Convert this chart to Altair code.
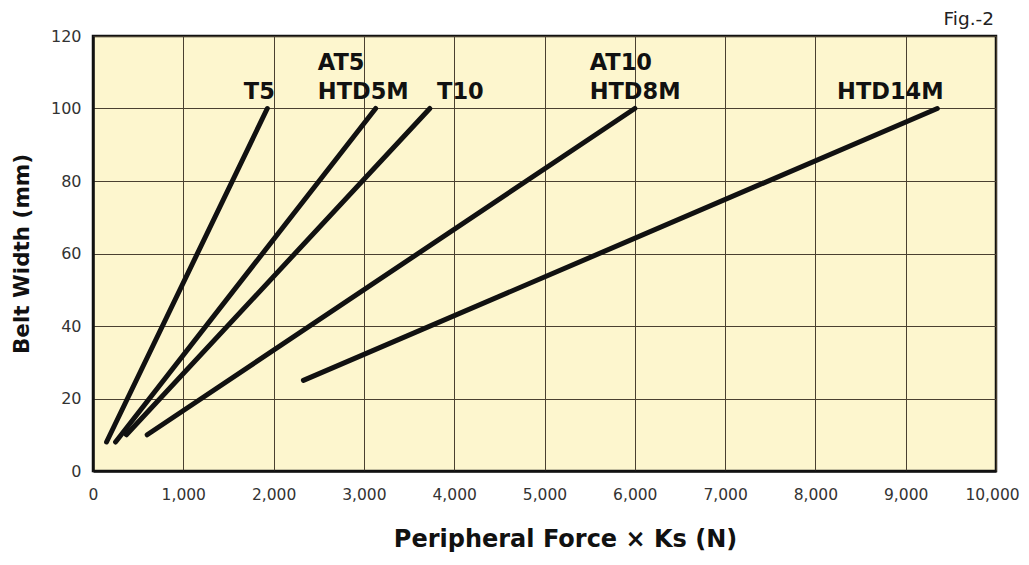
import altair as alt
import pandas as pd

# Lines: belt types, start/end (force N, width mm)
series = ["T5", "AT5/HTD5M", "T10", "AT10/HTD8M", "HTD14M"]
force_start = [150, 250, 370, 600, 2330]
force_end = [1930, 3130, 3730, 6000, 9350]
width_start = [8, 8, 10, 10, 25]
width_end = [100, 100, 100, 100, 100]

# Line labels
label_text = ["T5", "AT5", "HTD5M", "T10", "AT10", "HTD8M", "HTD14M"]
label_force = [1670, 2490, 2490, 3810, 5500, 5500, 8240]
label_width = [102.5, 110.5, 102.5, 102.5, 110.5, 102.5, 102.5]

x_ticks = [0, 1000, 2000, 3000, 4000, 5000, 6000, 7000, 8000, 9000, 10000]
y_ticks = [0, 20, 40, 60, 80, 100, 120]

rows = []
for s, f0, f1, w0, w1 in zip(series, force_start, force_end, width_start, width_end):
    rows.append({"series": s, "force": f0, "width": w0, "order": 0})
    rows.append({"series": s, "force": f1, "width": w1, "order": 1})
lines_df = pd.DataFrame(rows)
labels_df = pd.DataFrame({"label": label_text, "force": label_force, "width": label_width})

FONT = "DejaVu Sans"

x_scale = alt.Scale(domain=[0, 10000], nice=False)
y_scale = alt.Scale(domain=[0, 120], nice=False)

x_enc = alt.X("force:Q", scale=x_scale,
              axis=alt.Axis(values=x_ticks, format=",d", title="Peripheral Force × Ks (N)",
                            labelFontSize=15.5, labelColor="#333333", labelPadding=16,
                            labelOffset={"condition": {"test": "datum.value === 10000", "value": -4},
                                         "value": 0},
                            titleFontSize=24, titleFontWeight="bold", titleColor="#111111",
                            titlePadding=25, titleX=472, titleAlign="center",
                            ticks=False, domainColor="#111111", domainWidth=2.5,
                            labelFlush=False, labelOverlap=False,
                            gridColor="#4a4030", gridWidth=1, gridOpacity=1))
y_enc = alt.Y("width:Q", scale=y_scale,
              axis=alt.Axis(values=y_ticks, format="d", title="Belt Width (mm)",
                            labelFontSize=16, labelColor="#333333", labelPadding=12,
                            titleFontSize=21.5, titleFontWeight="bold", titleColor="#111111",
                            titlePadding=17, ticks=False, domainColor="#111111", domainWidth=2.5,
                            labelFlush=False, labelOverlap=False,
                            gridColor="#4a4030", gridWidth=1, gridOpacity=1))

lines = alt.Chart(lines_df).mark_line(color="#111111", strokeWidth=5, strokeCap="round").encode(
    x=x_enc, y=y_enc, detail="series:N", order="order:Q"
)

labels = alt.Chart(labels_df).mark_text(
    font=FONT, fontSize=22.5, fontWeight="bold", color="#111111", align="left", baseline="alphabetic"
).encode(
    x=alt.X("force:Q", scale=x_scale), y=alt.Y("width:Q", scale=y_scale), text="label:N"
)

chart = alt.layer(lines, labels).properties(
    width=903, height=435,
    title=alt.TitleParams("Fig.-2", anchor="end", frame="group", fontSize=18.5,
                          fontWeight="normal", font=FONT, color="#222222", offset=0, dx=-2),
    autosize=alt.AutoSizeParams(type="none"),
    padding={"left": 85, "top": 28, "right": 25, "bottom": 94},
).configure_view(
    fill="#FDF6CE", stroke="#111111", strokeWidth=2.5
).configure_axis(
    labelFont=FONT, titleFont=FONT
)

chart.save("out.html", embed_options={"renderer": "svg", "actions": False})
